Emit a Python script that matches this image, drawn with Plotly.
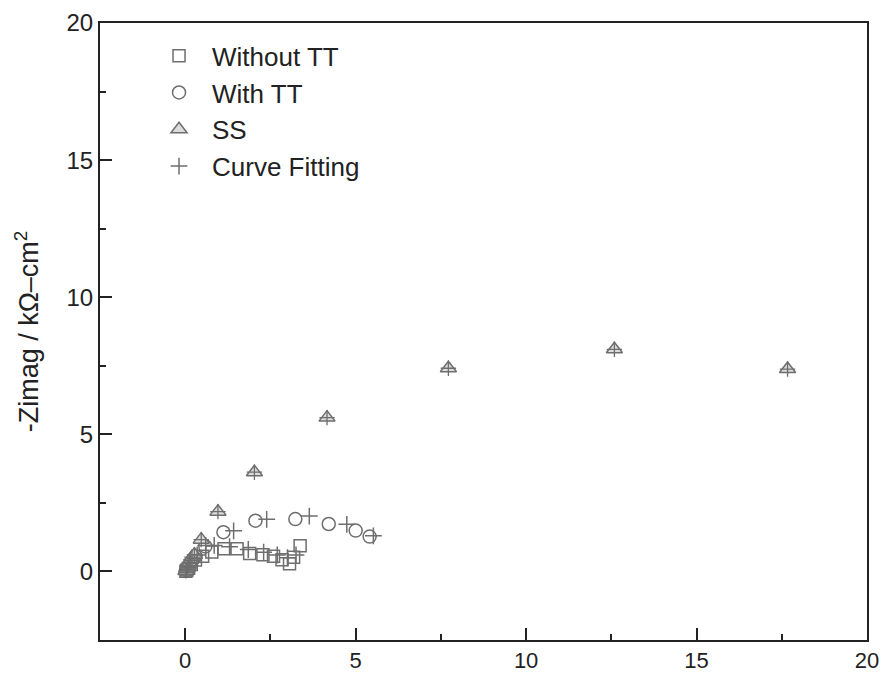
import plotly.graph_objects as go

# Without TT (squares)
wo_x = [0.02, 0.05, 0.1, 0.18, 0.3, 0.51, 0.78, 1.14, 1.52, 1.89, 2.28, 2.59, 2.84, 3.06, 3.18, 3.37]
wo_y = [0.01, 0.05, 0.12, 0.25, 0.42, 0.55, 0.71, 0.83, 0.83, 0.65, 0.61, 0.55, 0.43, 0.28, 0.52, 0.94]
# With TT (circles)
w_x = [0.05, 0.15, 0.3, 0.59, 1.12, 2.06, 3.23, 4.21, 5.0, 5.41]
w_y = [0.05, 0.25, 0.55, 0.91, 1.43, 1.85, 1.91, 1.73, 1.49, 1.27]
# SS (triangles)
ss_x = [0.02, 0.04, 0.06, 0.09, 0.12, 0.16, 0.2, 0.27, 0.47, 0.96, 2.03, 4.16, 7.72, 12.59, 17.67]
ss_y = [0.02, 0.08, 0.14, 0.22, 0.32, 0.42, 0.52, 0.61, 1.16, 2.18, 3.62, 5.61, 7.41, 8.10, 7.38]
# Curve fitting (crosses)
fit_wo_x = [0.35, 0.85, 1.3, 1.85, 2.3, 2.7, 3.0, 3.25]
fit_wo_y = [0.6, 0.95, 0.9, 0.8, 0.7, 0.6, 0.5, 0.6]
fit_w_x = [0.6, 1.42, 2.39, 3.64, 4.74, 5.52]
fit_w_y = [0.95, 1.48, 1.90, 2.02, 1.72, 1.30]
fit_ss_x = ss_x
fit_ss_y = ss_y

gray = "#6e6e6e"
font = "Liberation Sans, Arial, sans-serif"

fig = go.Figure()
fig.add_trace(go.Scatter(x=wo_x, y=wo_y, mode="markers", name="Without TT",
                         marker=dict(symbol="square-open", size=12, color=gray, line=dict(width=1.5))))
fig.add_trace(go.Scatter(x=w_x, y=w_y, mode="markers", name="With TT",
                         marker=dict(symbol="circle-open", size=13, color=gray, line=dict(width=1.5))))
fig.add_trace(go.Scatter(x=ss_x, y=ss_y, mode="markers", name="SS",
                         marker=dict(symbol="triangle-up", size=14, color="#dcdcdc",
                                     line=dict(width=1.5, color=gray))))
fig.add_trace(go.Scatter(x=fit_wo_x, y=fit_wo_y, mode="markers", name="Curve Fitting",
                         legendgroup="fit",
                         marker=dict(symbol="cross-thin", size=12, color=gray, line=dict(width=1.5, color=gray))))
fig.add_trace(go.Scatter(x=fit_w_x, y=fit_w_y, mode="markers", name="Curve Fitting",
                         legendgroup="fit", showlegend=False,
                         marker=dict(symbol="cross-thin", size=12, color=gray, line=dict(width=1.5, color=gray))))
fig.add_trace(go.Scatter(x=fit_ss_x, y=fit_ss_y, mode="markers", name="Curve Fitting",
                         legendgroup="fit", showlegend=False,
                         marker=dict(symbol="cross-thin", size=11, color=gray, line=dict(width=1.3, color=gray))))

axis_common = dict(
    range=[-2.5, 20], showgrid=False, zeroline=False, automargin=False,
    showline=True, linecolor="#222", linewidth=2, mirror=True,
    ticks="inside", ticklen=12, tickwidth=2, tickcolor="#222",
    tick0=0, dtick=5,
    minor=dict(ticks="inside", ticklen=6, tickwidth=2, tickcolor="#222", dtick=2.5, tick0=0),
)

fig.update_xaxes(**axis_common, tickfont=dict(family=font, size=22, color="#222"))
fig.update_yaxes(**axis_common, tickfont=dict(family=font, size=24, color="#222"),
                 title=dict(text="-Zimag / kΩ–cm<sup>2</sup>", font=dict(family=font, size=27, color="#222"),
                            standoff=20))

fig.update_layout(
    width=882, height=680,
    margin=dict(l=100, r=15, t=23, b=40),
    plot_bgcolor="white", paper_bgcolor="white",
    font=dict(family=font, color="#222"),
    legend=dict(x=0.06, y=0.985, xanchor="left", yanchor="top",
                bgcolor="rgba(0,0,0,0)", itemwidth=56,
                font=dict(family=font, size=26, color="#222"), tracegroupgap=0),
)

fig.write_html("out.html")
